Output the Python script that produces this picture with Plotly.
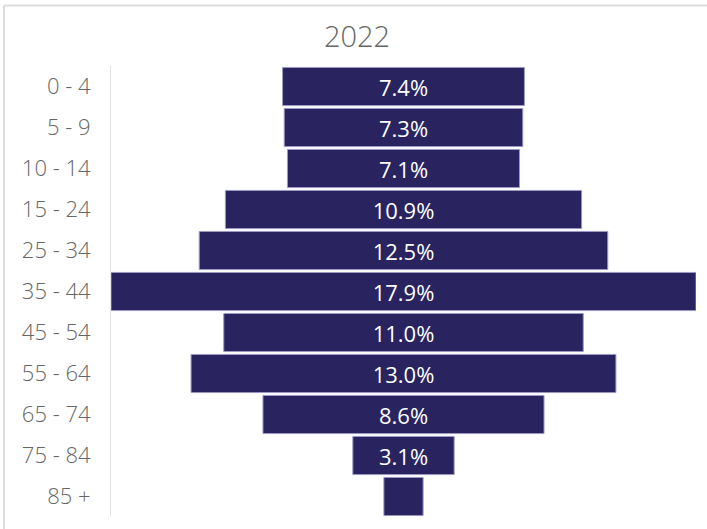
import plotly.graph_objects as go

# Age distribution, 2022 (share of population, %)
age_groups = ["0 - 4", "5 - 9", "10 - 14", "15 - 24", "25 - 34", "35 - 44",
              "45 - 54", "55 - 64", "65 - 74", "75 - 84", "85 +"]
shares = [7.4, 7.3, 7.1, 10.9, 12.5, 17.9, 11.0, 13.0, 8.6, 3.1, 1.2]

bar_color = "#29235F"
text_gray = "#666666"
font_family = "Segoe UI, Open Sans, sans-serif"

fig = go.Figure(
    go.Bar(
        y=age_groups,
        x=shares,
        base=[-v / 2 for v in shares],   # centre each bar on zero
        orientation="h",
        marker=dict(color=bar_color, line=dict(color="#9d99c4", width=1)),
        text=[f"{v:.1f}%" for v in shares],
        textposition="inside",
        insidetextanchor="middle",
        textangle=0,
        textfont=dict(color="#ffffff", size=22, family=font_family),
        hoverinfo="skip",
    )
)

max_half = max(shares) / 2

fig.update_layout(
    width=707,
    height=529,
    margin=dict(l=111, r=11, t=66, b=12),
    paper_bgcolor="white",
    plot_bgcolor="white",
    bargap=0.07,
    showlegend=False,
    uniformtext=dict(minsize=20, mode="hide"),
    title=dict(
        text="2022",
        x=0.505,
        xref="container",
        y=0.93,
        yref="container",
        xanchor="center",
        yanchor="middle",
        font=dict(size=29, color=text_gray, family=font_family, weight=300),
    ),
    xaxis=dict(
        range=[-max_half, max_half],
        visible=False,
        fixedrange=True,
    ),
    yaxis=dict(
        categoryorder="array",
        categoryarray=age_groups,
        autorange="reversed",
        showgrid=False,
        zeroline=False,
        showline=True,
        linecolor="#e3e3e3",
        linewidth=1,
        ticks="",
        ticklabelstandoff=15,
        tickfont=dict(size=22, color=text_gray, family=font_family, weight=350),
    ),
    shapes=[
        # light frame along the top and left edges of the visual
        dict(type="line", xref="paper", yref="paper",
             x0=(4 - 111) / 585, x1=1.05, y0=(517.5 - 6) / 451, y1=(517.5 - 6) / 451,
             line=dict(color="#dcdcdc", width=2)),
        dict(type="line", xref="paper", yref="paper",
             x0=(4 - 111) / 585, x1=(4 - 111) / 585, y0=(517.5 - 6) / 451, y1=-0.1,
             line=dict(color="#dcdcdc", width=2)),
    ],
)

fig.write_html("out.html")
